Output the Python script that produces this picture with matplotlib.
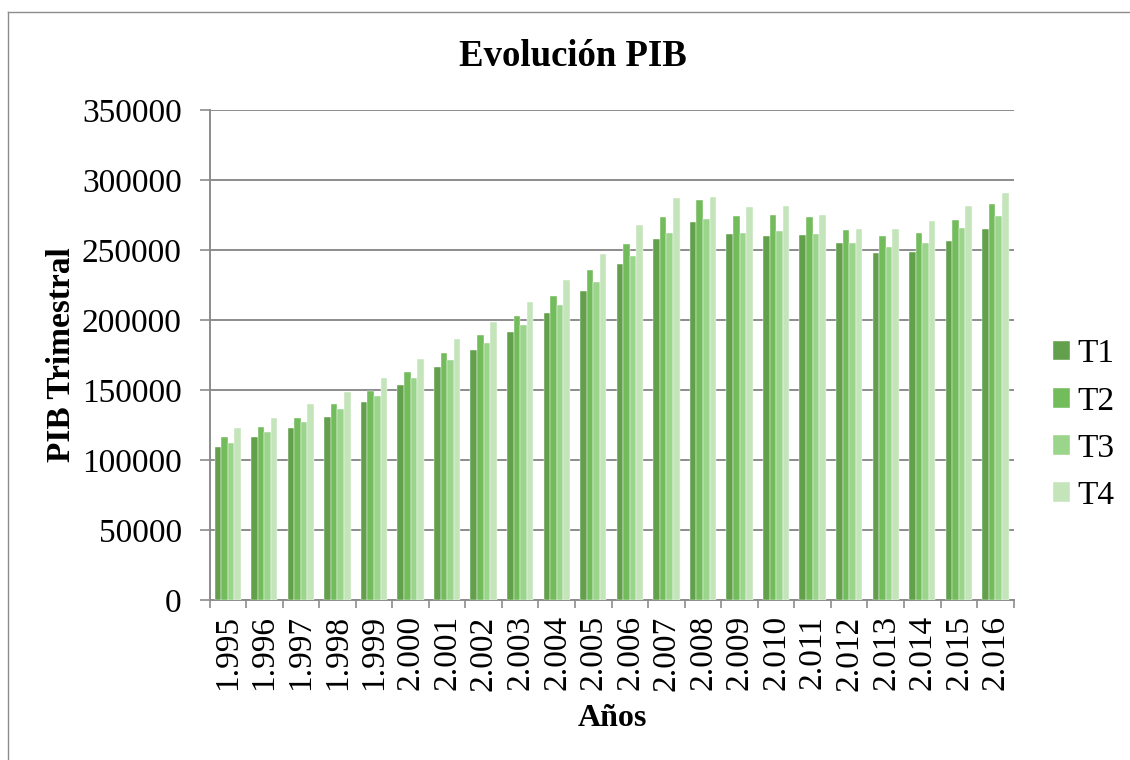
import matplotlib
matplotlib.use("Agg")
import matplotlib.pyplot as plt
import numpy as np
from matplotlib.lines import Line2D

plt.rcParams['font.family'] = ['Liberation Serif', 'DejaVu Serif']

# PIB trimestral por año (lectura aproximada del gráfico)
years = ["1.995", "1.996", "1.997", "1.998", "1.999", "2.000", "2.001", "2.002",
         "2.003", "2.004", "2.005", "2.006", "2.007", "2.008", "2.009", "2.010",
         "2.011", "2.012", "2.013", "2.014", "2.015", "2.016"]
t1 = [109500, 116200, 122600, 130500, 141200, 153600, 166400, 178500, 191700, 204800, 220700,
      239800, 257600, 270000, 261200, 260200, 260700, 255000, 248100, 248800, 256700, 265000]
t2 = [116400, 123400, 130200, 139800, 149500, 162600, 176200, 189300, 202900, 217400, 235500,
      254500, 273300, 285500, 274300, 275000, 273300, 264000, 260000, 261900, 271700, 282900]
t3 = [112400, 120200, 127100, 136200, 145700, 158800, 171700, 183300, 196400, 210700, 227100,
      245700, 262100, 271900, 262100, 263600, 261200, 255200, 252100, 255200, 265700, 274500]
t4 = [122600, 130000, 139800, 148800, 158600, 172100, 186200, 198600, 212900, 228600, 247100,
      267600, 286900, 288100, 280700, 281700, 275000, 265200, 265200, 270500, 281400, 290700]
series_names = ["T1", "T2", "T3", "T4"]
colors = ["#62a04b", "#73bc5b", "#9bd48b", "#c4e4ba"]

W, H = 1130, 760
fig = plt.figure(figsize=(W / 100, H / 100), dpi=100)
ax = fig.add_axes([209.5 / W, (H - 600) / H, (1013.7 - 209.5) / W, 490 / H])

x = np.arange(len(years))
w = 0.18
for i, (vals, name, col) in enumerate(zip([t1, t2, t3, t4], series_names, colors)):
    ax.bar(x + (i - 1.5) * w, vals, width=w, color=col, label=name,
           edgecolor="white", linewidth=0.3, zorder=3)

ax.set_xlim(-0.5, len(years) - 0.5)
ax.set_ylim(0, 350000)
ax.set_yticks(np.arange(0, 350001, 50000))
ax.yaxis.grid(True, color="#8c8c8c", linewidth=1.4, zorder=0)
ax.tick_params(axis="y", labelsize=24, length=7, width=1.2, color="#8c8c8c", pad=13)

# ticks at category boundaries, labels at centres
ax.set_xticks(np.arange(-0.5, len(years), 1.0))
ax.set_xticklabels([])
ax.set_xticks(x, minor=True)
ax.set_xticklabels(years, minor=True, rotation=90, fontsize=24)
ax.tick_params(axis="x", which="major", length=6, width=1.2, color="#8c8c8c")
ax.tick_params(axis="x", which="minor", length=0, pad=11)

for s in ["top", "right"]:
    ax.spines[s].set_visible(False)
for s in ["left", "bottom"]:
    ax.spines[s].set_color("#8c8c8c")
    ax.spines[s].set_linewidth(1.4)

fig.text(573 / W, 1 - 56 / H, "Evolución PIB", fontsize=26.5, fontweight="bold",
         ha="center", va="center")
fig.text(62 / W, 1 - 355 / H, "PIB Trimestral", fontsize=24, fontweight="bold",
         rotation=90, ha="center", va="center")
fig.text(612 / W, 1 - 718 / H, "Años", fontsize=23, fontweight="bold",
         ha="center", va="center")

ax.legend(loc="center left", bbox_to_anchor=(1053 / W, 1 - 425 / H),
          bbox_transform=fig.transFigure, frameon=False, fontsize=24,
          handlelength=0.52, handleheight=0.52, handletextpad=0.2,
          labelspacing=0.5, borderpad=0, borderaxespad=0)

# outer chart border
fig.add_artist(Line2D([8 / W, 8 / W], [0, 1 - 12 / H], transform=fig.transFigure,
                      color="#8c8c8c", linewidth=1.0))
fig.add_artist(Line2D([8 / W, 1], [1 - 12 / H, 1 - 12 / H], transform=fig.transFigure,
                      color="#8c8c8c", linewidth=1.0))

fig.savefig("out.png", dpi=100)
